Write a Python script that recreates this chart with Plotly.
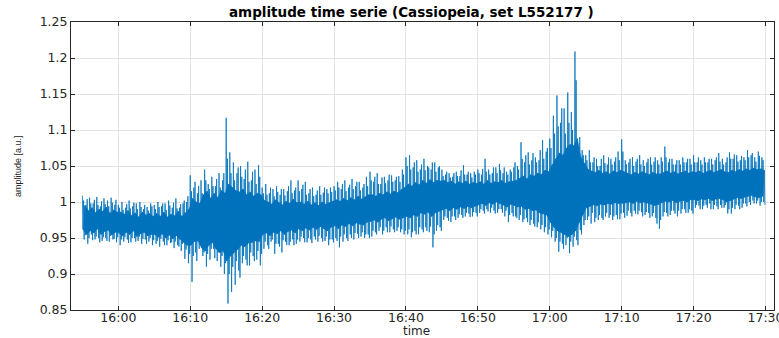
import pandas as pd
import plotly.graph_objects as go

# ---------------- data ----------------
title_text = "amplitude time serie (Cassiopeia, set L552177 )"
x_label = "time"
y_label = "amplitude [a.u.]"

x_tick_times = ["16:00", "16:10", "16:20", "16:30", "16:40", "16:50",
                "17:00", "17:10", "17:20", "17:30"]
x_tick_labels = ["16:00", "16:10", "16:20", "16:30", "16:40", "16:50",
                 "17:00", "17:10", "17:20", "17:30"]
y_tick_values = [0.85, 0.9, 0.95, 1.0, 1.05, 1.1, 1.15, 1.2, 1.25]
y_tick_labels = ["0.85", "0.9", "0.95", "1", "1.05", "1.1", "1.15", "1.2", "1.25"]

series_start = "15:55:00"
sample_step = "5s"   # per 30 s bin: max, core low, 2nd max, min, core high, 2nd min

# largest spike maxima per 30 s bin (15:55 ... 17:29:30)
peak_hi = [
    1.009, 0.996, 1.006, 0.998, 1.007, 0.994, 1.005, 1.002, 1.006, 0.996,
    0.996, 1.000, 0.992, 1.002, 0.994, 0.998, 1.000, 0.990, 0.993, 0.998,
    0.996, 1.000, 0.994, 0.998, 1.002, 0.992, 1.005, 0.992, 0.998, 1.000,
    1.037, 1.020, 1.012, 1.030, 1.045, 1.025, 1.035, 1.022, 1.040, 1.030,
    1.117, 1.069, 1.055, 1.040, 1.050, 1.032, 1.056, 1.030, 1.045, 1.051,
    1.020, 1.025, 1.012, 1.018, 1.022, 1.010, 1.018, 1.015, 1.030, 1.016,
    1.030, 1.018, 1.028, 1.012, 1.020, 1.010, 1.022, 1.013, 1.018, 1.020,
    1.022, 1.028, 1.018, 1.030, 1.020, 1.032, 1.022, 1.028, 1.020, 1.035,
    1.042, 1.028, 1.040, 1.025, 1.035, 1.030, 1.037, 1.030, 1.036, 1.045,
    1.062, 1.065, 1.048, 1.058, 1.045, 1.060, 1.050, 1.045, 1.055, 1.048,
    1.045, 1.038, 1.040, 1.035, 1.042, 1.036, 1.051, 1.038, 1.040, 1.042,
    1.045, 1.038, 1.060, 1.045, 1.040, 1.048, 1.053, 1.040, 1.042, 1.045,
    1.048, 1.050, 1.083, 1.055, 1.069, 1.058, 1.062, 1.058, 1.086, 1.070,
    1.088, 1.120, 1.148, 1.110, 1.130, 1.152, 1.125, 1.209, 1.076, 1.072,
    1.065, 1.072, 1.055, 1.060, 1.050, 1.065, 1.052, 1.060, 1.056, 1.070,
    1.087, 1.058, 1.055, 1.062, 1.056, 1.065, 1.058, 1.055, 1.062, 1.056,
    1.058, 1.062, 1.077, 1.055, 1.060, 1.052, 1.058, 1.062, 1.055, 1.060,
    1.065, 1.055, 1.058, 1.062, 1.055, 1.060, 1.058, 1.068, 1.060, 1.055,
    1.069, 1.060, 1.065, 1.058, 1.062, 1.072, 1.065, 1.062, 1.070, 1.062,
]

# second spike maxima per 30 s bin
peak_hi2 = [
    1.002, 1.004, 0.998, 1.003, 0.996, 1.001, 0.997, 0.994, 0.999, 1.003,
    0.992, 0.989, 0.997, 0.991, 0.999, 0.990, 0.993, 0.996, 0.988, 0.994,
    0.990, 0.993, 0.998, 0.989, 0.995, 0.999, 0.991, 0.997, 1.002, 1.008,
    1.015, 1.028, 1.022, 1.012, 1.030, 1.018, 1.022, 1.032, 1.020, 1.040,
    1.060, 1.040, 1.030, 1.048, 1.035, 1.045, 1.028, 1.042, 1.025, 1.035,
    1.012, 1.010, 1.020, 1.008, 1.014, 1.018, 1.009, 1.022, 1.012, 1.020,
    1.015, 1.024, 1.010, 1.018, 1.008, 1.016, 1.010, 1.020, 1.012, 1.014,
    1.016, 1.020, 1.025, 1.015, 1.024, 1.018, 1.028, 1.016, 1.025, 1.022,
    1.030, 1.035, 1.025, 1.034, 1.026, 1.038, 1.028, 1.035, 1.028, 1.038,
    1.050, 1.045, 1.055, 1.042, 1.052, 1.044, 1.048, 1.055, 1.042, 1.050,
    1.036, 1.042, 1.034, 1.040, 1.036, 1.044, 1.038, 1.042, 1.034, 1.038,
    1.040, 1.046, 1.042, 1.038, 1.048, 1.040, 1.044, 1.048, 1.038, 1.042,
    1.055, 1.045, 1.060, 1.065, 1.052, 1.068, 1.055, 1.072, 1.060, 1.075,
    1.075, 1.095, 1.105, 1.130, 1.095, 1.110, 1.100, 1.169, 1.090, 1.065,
    1.058, 1.055, 1.062, 1.050, 1.060, 1.054, 1.062, 1.052, 1.062, 1.058,
    1.070, 1.052, 1.060, 1.050, 1.060, 1.052, 1.050, 1.060, 1.052, 1.062,
    1.052, 1.056, 1.062, 1.060, 1.052, 1.058, 1.052, 1.055, 1.060, 1.052,
    1.055, 1.062, 1.052, 1.055, 1.060, 1.052, 1.062, 1.056, 1.052, 1.062,
    1.060, 1.066, 1.056, 1.064, 1.058, 1.062, 1.068, 1.056, 1.064, 1.058,
]

# largest spike minima per 30 s bin
peak_lo = [
    0.948, 0.942, 0.955, 0.948, 0.950, 0.946, 0.950, 0.945, 0.948, 0.944,
    0.940, 0.945, 0.948, 0.944, 0.950, 0.946, 0.942, 0.948, 0.945, 0.940,
    0.942, 0.938, 0.945, 0.940, 0.943, 0.936, 0.940, 0.932, 0.921, 0.915,
    0.889, 0.930, 0.935, 0.925, 0.910, 0.920, 0.935, 0.918, 0.910, 0.900,
    0.859, 0.875, 0.885, 0.905, 0.915, 0.920, 0.912, 0.925, 0.920, 0.912,
    0.935, 0.940, 0.945, 0.928, 0.942, 0.930, 0.945, 0.940, 0.948, 0.942,
    0.945, 0.950, 0.944, 0.948, 0.952, 0.945, 0.950, 0.946, 0.940, 0.948,
    0.950, 0.937, 0.945, 0.950, 0.955, 0.948, 0.956, 0.952, 0.950, 0.955,
    0.952, 0.958, 0.960, 0.955, 0.965, 0.958, 0.962, 0.960, 0.958, 0.955,
    0.955, 0.951, 0.960, 0.955, 0.962, 0.965, 0.958, 0.937, 0.960, 0.965,
    0.975, 0.978, 0.972, 0.980, 0.978, 0.982, 0.980, 0.984, 0.980, 0.985,
    0.985, 0.988, 0.990, 0.985, 0.988, 0.985, 0.990, 0.980, 0.972, 0.985,
    0.980, 0.975, 0.972, 0.978, 0.968, 0.970, 0.965, 0.962, 0.958, 0.955,
    0.951, 0.945, 0.931, 0.942, 0.940, 0.929, 0.938, 0.947, 0.961, 0.968,
    0.975, 0.970, 0.972, 0.975, 0.978, 0.980, 0.978, 0.975, 0.982, 0.976,
    0.985, 0.981, 0.985, 0.988, 0.983, 0.986, 0.982, 0.985, 0.980, 0.978,
    0.963, 0.980, 0.985, 0.982, 0.988, 0.980, 0.984, 0.990, 0.985, 0.988,
    0.992, 0.995, 0.990, 0.996, 0.998, 0.990, 0.994, 0.996, 0.992, 0.984,
    0.984, 0.990, 0.995, 0.992, 0.998, 1.000, 1.002, 0.998, 0.995, 1.000,
]

# second spike minima per 30 s bin
peak_lo2 = [
    0.954, 0.950, 0.947, 0.952, 0.944, 0.951, 0.946, 0.953, 0.949, 0.951,
    0.948, 0.951, 0.943, 0.950, 0.945, 0.952, 0.949, 0.942, 0.950, 0.947,
    0.946, 0.949, 0.940, 0.947, 0.944, 0.945, 0.938, 0.942, 0.934, 0.928,
    0.925, 0.918, 0.940, 0.930, 0.928, 0.935, 0.922, 0.930, 0.925, 0.915,
    0.900, 0.910, 0.918, 0.895, 0.925, 0.912, 0.930, 0.918, 0.932, 0.928,
    0.945, 0.935, 0.948, 0.942, 0.938, 0.947, 0.940, 0.945, 0.940, 0.948,
    0.952, 0.944, 0.950, 0.943, 0.948, 0.953, 0.945, 0.952, 0.948, 0.944,
    0.946, 0.952, 0.955, 0.946, 0.950, 0.957, 0.950, 0.958, 0.955, 0.950,
    0.960, 0.955, 0.965, 0.960, 0.958, 0.966, 0.958, 0.965, 0.962, 0.960,
    0.962, 0.958, 0.955, 0.965, 0.958, 0.960, 0.966, 0.955, 0.968, 0.960,
    0.980, 0.974, 0.980, 0.975, 0.983, 0.978, 0.985, 0.979, 0.986, 0.980,
    0.990, 0.984, 0.987, 0.992, 0.984, 0.990, 0.985, 0.988, 0.982, 0.980,
    0.978, 0.982, 0.976, 0.972, 0.975, 0.966, 0.972, 0.968, 0.965, 0.962,
    0.960, 0.950, 0.945, 0.935, 0.950, 0.945, 0.952, 0.940, 0.955, 0.975,
    0.980, 0.985, 0.978, 0.982, 0.975, 0.985, 0.982, 0.980, 0.976, 0.984,
    0.978, 0.988, 0.980, 0.984, 0.988, 0.980, 0.986, 0.978, 0.985, 0.970,
    0.975, 0.986, 0.980, 0.988, 0.984, 0.988, 0.990, 0.985, 0.990, 0.984,
    0.996, 0.990, 0.995, 0.992, 0.990, 0.996, 0.990, 0.992, 0.996, 0.990,
    0.992, 0.996, 0.990, 0.998, 0.994, 0.996, 0.998, 1.002, 1.000, 0.996,
]

# upper edge of the dense core band per 30 s bin
core_hi = [
    0.995, 0.988, 0.992, 0.985, 0.990, 0.987, 0.993, 0.984, 0.989, 0.986,
    0.986, 0.983, 0.988, 0.981, 0.985, 0.979, 0.986, 0.982, 0.984, 0.980,
    0.984, 0.980, 0.986, 0.979, 0.983, 0.981, 0.987, 0.980, 0.985, 0.990,
    1.005, 1.000, 0.998, 1.010, 1.015, 1.005, 1.012, 1.006, 1.016, 1.012,
    1.025, 1.020, 1.016, 1.014, 1.018, 1.010, 1.014, 1.008, 1.012, 1.010,
    1.002, 1.000, 0.997, 1.003, 0.999, 0.996, 1.001, 0.998, 1.004, 0.999,
    1.000, 0.997, 1.001, 0.996, 0.999, 0.995, 1.000, 0.997, 0.999, 1.001,
    1.003, 1.001, 1.005, 1.002, 1.006, 1.003, 1.008, 1.004, 1.007, 1.010,
    1.010, 1.008, 1.012, 1.010, 1.014, 1.011, 1.015, 1.013, 1.017, 1.020,
    1.025, 1.022, 1.027, 1.024, 1.030, 1.026, 1.031, 1.027, 1.030, 1.029,
    1.030, 1.027, 1.029, 1.025, 1.028, 1.026, 1.029, 1.025, 1.027, 1.026,
    1.028, 1.025, 1.030, 1.026, 1.028, 1.027, 1.030, 1.026, 1.028, 1.029,
    1.030, 1.033, 1.036, 1.032, 1.038, 1.036, 1.040, 1.038, 1.044, 1.042,
    1.052, 1.060, 1.068, 1.065, 1.075, 1.080, 1.078, 1.088, 1.062, 1.054,
    1.045, 1.043, 1.041, 1.044, 1.040, 1.042, 1.039, 1.043, 1.041, 1.044,
    1.042, 1.040, 1.038, 1.041, 1.039, 1.042, 1.040, 1.038, 1.041, 1.039,
    1.039, 1.041, 1.043, 1.040, 1.042, 1.039, 1.041, 1.043, 1.040, 1.042,
    1.041, 1.043, 1.040, 1.042, 1.044, 1.041, 1.043, 1.045, 1.042, 1.041,
    1.044, 1.042, 1.045, 1.043, 1.046, 1.044, 1.047, 1.045, 1.046, 1.044,
]

# lower edge of the dense core band per 30 s bin
core_lo = [
    0.962, 0.955, 0.960, 0.957, 0.963, 0.955, 0.959, 0.961, 0.954, 0.958,
    0.957, 0.953, 0.958, 0.955, 0.960, 0.952, 0.956, 0.958, 0.953, 0.955,
    0.955, 0.951, 0.956, 0.950, 0.954, 0.949, 0.953, 0.948, 0.944, 0.940,
    0.940, 0.945, 0.946, 0.936, 0.932, 0.940, 0.944, 0.935, 0.930, 0.932,
    0.918, 0.925, 0.930, 0.934, 0.940, 0.938, 0.943, 0.944, 0.946, 0.945,
    0.955, 0.957, 0.953, 0.958, 0.956, 0.960, 0.955, 0.959, 0.961, 0.957,
    0.963, 0.960, 0.964, 0.961, 0.965, 0.962, 0.966, 0.963, 0.960, 0.965,
    0.967, 0.963, 0.968, 0.966, 0.970, 0.967, 0.971, 0.969, 0.968, 0.972,
    0.973, 0.975, 0.972, 0.976, 0.978, 0.974, 0.977, 0.979, 0.976, 0.978,
    0.980, 0.978, 0.982, 0.980, 0.985, 0.983, 0.986, 0.980, 0.985, 0.987,
    0.989, 0.991, 0.988, 0.992, 0.990, 0.993, 0.991, 0.994, 0.992, 0.995,
    0.996, 0.998, 0.995, 0.999, 0.997, 1.000, 0.998, 0.996, 0.993, 0.997,
    0.995, 0.993, 0.994, 0.990, 0.991, 0.988, 0.989, 0.985, 0.984, 0.982,
    0.972, 0.965, 0.960, 0.958, 0.955, 0.952, 0.955, 0.960, 0.972, 0.982,
    0.992, 0.994, 0.996, 0.995, 0.997, 0.996, 0.998, 0.997, 0.999, 0.998,
    0.998, 0.999, 1.000, 0.998, 1.001, 0.999, 1.000, 0.999, 0.997, 0.995,
    0.996, 0.999, 1.001, 1.000, 1.002, 0.999, 1.001, 1.002, 1.000, 1.003,
    1.003, 1.002, 1.004, 1.003, 1.005, 1.002, 1.004, 1.005, 1.003, 1.000,
    1.002, 1.004, 1.006, 1.005, 1.007, 1.008, 1.009, 1.007, 1.006, 1.008,
]

# ---------------- build figure ----------------
day = "2020-01-01 "
amp = []
for a, b, c, d, e, f in zip(peak_hi, core_lo, peak_hi2, peak_lo, core_hi, peak_lo2):
    amp += [a, b, c, d, e, f]
times = list(pd.date_range(day + series_start, periods=len(amp), freq=sample_step))

# core band polygon: upper edge forward, lower edge backward
t_lo = times[1::6]
t_hi = times[4::6]
band_t = t_hi + t_lo[::-1]
band_y = core_hi + core_lo[::-1]

blue = "#0072BD"
axis_col = "#262626"
grid_col = "#e3e3e3"

fig = go.Figure()
fig.add_trace(go.Scatter(x=band_t, y=band_y, mode="lines", fill="toself",
                         fillcolor=blue, line=dict(color=blue, width=0.5),
                         hoverinfo="skip", showlegend=False))
fig.add_trace(go.Scatter(x=times, y=amp, mode="lines",
                         line=dict(color=blue, width=0.8), showlegend=False))

tick_font = dict(family="DejaVu Sans", size=12.5, color=axis_col)

common_axis = dict(
    ticks="inside", ticklen=4, tickcolor=axis_col, tickwidth=1,
    showline=True, linecolor=axis_col, linewidth=1, mirror="ticks",
    showgrid=True, gridcolor=grid_col, gridwidth=1,
    zeroline=False, tickfont=tick_font,
)

fig.update_layout(
    template="none",
    width=779, height=338,
    margin=dict(l=71, r=5, t=22, b=28, pad=0),
    paper_bgcolor="white", plot_bgcolor="white",
    showlegend=False,
    xaxis=dict(
        type="date",
        range=[day + "15:53:25", day + "17:31:11"],
        tickvals=[day + t for t in x_tick_times],
        ticktext=x_tick_labels,
        ticklabeloverflow="allow",
        ticklabelstandoff=-4,
        **common_axis,
    ),
    yaxis=dict(
        range=[0.85, 1.25],
        tickvals=y_tick_values,
        ticktext=y_tick_labels,
        **common_axis,
    ),
    annotations=[
        dict(text="<b>" + title_text + "</b>", xref="paper", yref="paper",
             x=0.484, y=1.035, xanchor="center", yanchor="middle",
             showarrow=False,
             font=dict(family="DejaVu Sans", size=13.5, color="#000000")),
        dict(text=x_label, xref="paper", yref="paper",
             x=0.492, y=-0.074, xanchor="center", yanchor="middle",
             showarrow=False,
             font=dict(family="DejaVu Sans", size=12, color=axis_col)),
        dict(text=y_label, xref="paper", yref="paper",
             x=-0.0753, y=0.5, xanchor="center", yanchor="middle",
             textangle=-90, showarrow=False,
             font=dict(family="Liberation Sans", size=9, color=axis_col)),
    ],
)

fig.write_html("out.html")
